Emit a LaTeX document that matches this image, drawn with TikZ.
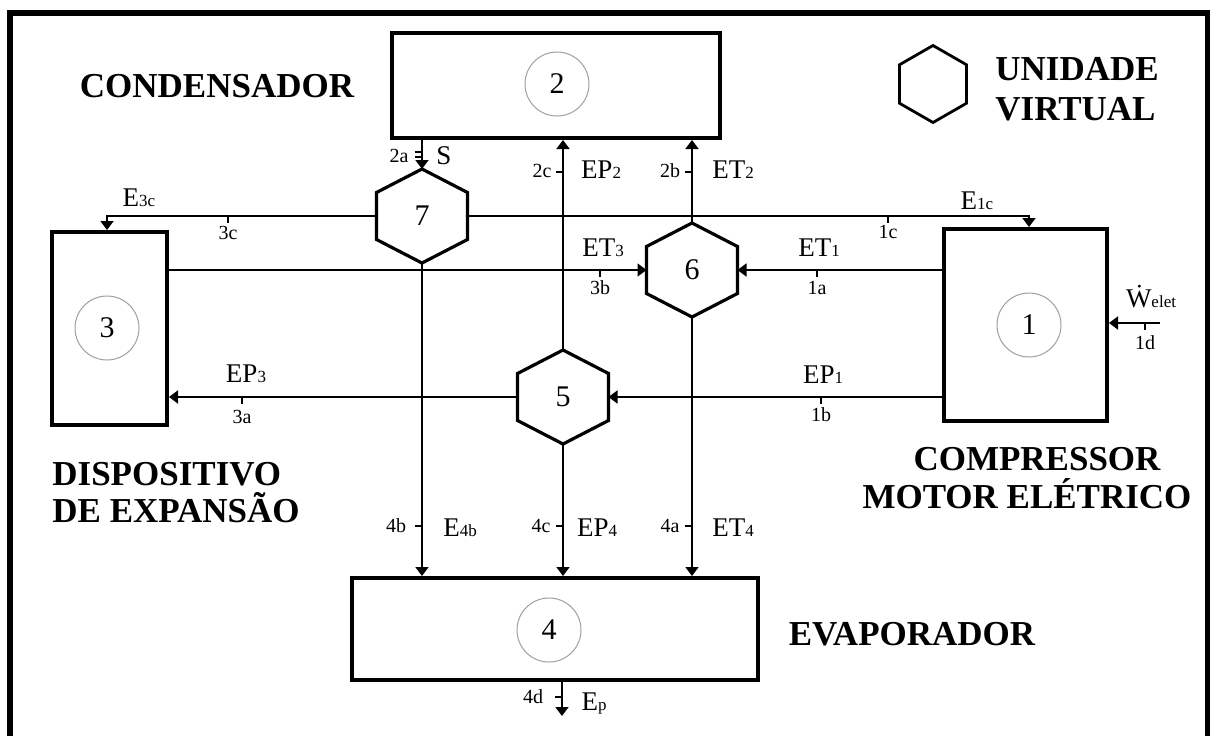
\documentclass[tikz,border=0pt]{standalone}
\usepackage{fontspec}
\setmainfont{Liberation Serif}
\usetikzlibrary{arrows.meta,calc}
\newcommand{\sbs}[1]{{\fontsize{8.5}{9}\selectfont #1}}
\newcommand{\hexdraw}[2][hexline]{\draw[#1] (#2.north) -- ($(#2.east)!0.5!(#2.north east)$) -- ($(#2.east)!0.5!(#2.south east)$) -- (#2.south) -- ($(#2.west)!0.5!(#2.south west)$) -- ($(#2.west)!0.5!(#2.north west)$) -- cycle;}
\begin{document}
\begin{tikzpicture}[x=0.5pt,y=-0.5pt,
  boxs/.style={draw,line width=2pt,inner sep=0},
  circ/.style={draw=gray!75,line width=0.5pt,circle,minimum size=32pt,inner sep=0,font=\fontsize{15}{17}\selectfont},
  hexn/.style={minimum width=45.5pt,minimum height=47pt,inner sep=0,outer sep=0,font=\fontsize{15}{17}\selectfont},
  hexline/.style={line width=1.6pt,line join=miter},
  arr/.style={line width=0.9pt,-{Triangle[length=4.5pt,width=6.5pt]}},
  ln/.style={line width=0.9pt},
  tick/.style={line width=0.6pt},
  lbl/.style={font=\fontsize{13.5}{15}\selectfont,inner sep=0},
  tl/.style={font=\fontsize{10}{11}\selectfont,inner sep=0},
  big/.style={font=\bfseries\fontsize{17.5}{20}\selectfont,inner sep=0}]
\useasboundingbox (0,0) rectangle (1210,735);
\draw[line width=3pt] (10,780) -- (10,13) -- (1208,13) -- (1208,780);

% boxes
\node[boxs,minimum width=164pt,minimum height=52.5pt] (b2) at (556,85.5) {};
\node[boxs,minimum width=81.5pt,minimum height=96pt] (b1) at (1025.5,325) {};
\node[boxs,minimum width=57.5pt,minimum height=96.5pt] (b3) at (109.5,328.5) {};
\node[boxs,minimum width=203pt,minimum height=51pt] (b4) at (555,629) {};
\node[circ] (c2) at (557,84) {2};
\node[circ] (c1) at (1029,325) {1};
\node[circ] (c3) at (107,328) {3};
\node[circ] (c4) at (549,630) {4};

% hexagons
\node[hexn] (h7) at (422,216) {7};
\node[hexn] (h6) at (692,270) {6};
\node[hexn] (h5) at (563,397) {5};
\node[minimum width=33.5pt,minimum height=38.5pt,inner sep=0,outer sep=0] (lh) at (933,84) {};
\hexdraw{h7}
\hexdraw{h6}
\hexdraw{h5}
\hexdraw[line width=1.4pt]{lh}

% free ends
\coordinate (ep) at (562,716);
\coordinate (w) at (1160,323);

% connectors
\draw[arr] (b2.south -| h7.north) -- (h7.north);
\draw[arr] (h5.north) -- (b2.south -| h5.north);
\draw[arr] (h6.north) -- (b2.south -| h6.north);
\draw[arr] (h7.east) -| (b1.north -| c1);
\draw[arr] (h7.west) -| (b3.north -| c3);
\draw[arr] (b3.east |- h6.west) -- (h6.west);
\draw[arr] (b1.west |- h6.east) -- (h6.east);
\draw[arr] (b1.west |- h5.east) -- (h5.east);
\draw[arr] (h5.west) -- (b3.east |- h5.west);
\draw[arr] (h7.south) -- (b4.north -| h7.south);
\draw[arr] (h5.south) -- (b4.north -| h5.south);
\draw[arr] (h6.south) -- (b4.north -| h6.south);
\draw[arr] (b4.south -| ep) -- (ep);
\draw[arr] (w) -- (b1.east |- w);

% ticks
\draw[tick] (415,152) -- (422,152) (415,157) -- (422,157);
\draw[tick] (556,172) -- (563,172);
\draw[tick] (685,172) -- (692,172);
\draw[tick] (228,216) -- (228,223);
\draw[tick] (888,216) -- (888,223);
\draw[tick] (600,270) -- (600,277);
\draw[tick] (817,270) -- (817,277);
\draw[tick] (242,397) -- (242,404);
\draw[tick] (821,397) -- (821,404);
\draw[tick] (1145,323) -- (1145,330);
\draw[tick] (415,526) -- (422,526);
\draw[tick] (556,526) -- (563,526);
\draw[tick] (685,526) -- (692,526);
\draw[tick] (555,697) -- (562,697);

% tick labels
\node[tl] (t2a) at (399,156) {2a};
\node[tl] (t2c) at (542,171) {2c};
\node[tl] (t2b) at (670,171) {2b};
\node[tl] (t3c) at (228,233) {3c};
\node[tl] (t1c) at (888,232) {1c};
\node[tl] (t3b) at (600,288) {3b};
\node[tl] (t1a) at (817,288) {1a};
\node[tl] (t3a) at (242,417) {3a};
\node[tl] (t1b) at (821,415) {1b};
\node[tl] (t1d) at (1145,343) {1d};
\node[tl] (t4b) at (396,526) {4b};
\node[tl] (t4c) at (541,526) {4c};
\node[tl] (t4a) at (670,526) {4a};
\node[tl] (t4d) at (533,697) {4d};

% flow labels
\node[lbl] (lS) at (444,156) {S};
\node[lbl] (lEP2) at (601,170) {EP\sbs{2}};
\node[lbl] (lET2) at (733,170) {ET\sbs{2}};
\node[lbl] (lE3c) at (139,198) {E\sbs{3c}};
\node[lbl] (lE1c) at (977,201) {E\sbs{1c}};
\node[lbl] (lET3) at (603,248) {ET\sbs{3}};
\node[lbl] (lET1) at (819,248) {ET\sbs{1}};
\node[lbl] (lEP3) at (246,374) {EP\sbs{3}};
\node[lbl] (lEP1) at (823,375) {EP\sbs{1}};
\node[lbl] (lW) at (1151,297) {\.{W}\sbs{elet}};
\node[lbl] (lE4b) at (460,528) {E\sbs{4b}};
\node[lbl] (lEP4) at (597,528) {EP\sbs{4}};
\node[lbl] (lET4) at (733,528) {ET\sbs{4}};
\node[lbl] (lEp) at (594,703) {E\sbs{p}};

% titles
\node[big,anchor=base] (tc) at (217,97) {CONDENSADOR};
\node[big,anchor=base west] (tu1) at (995,80) {UNIDADE};
\node[big,anchor=base west] (tu2) at (995,120) {VIRTUAL};
\node[big,anchor=base west] (td1) at (52,485) {DISPOSITIVO};
\node[big,anchor=base west] (td2) at (52,522) {DE EXPANSÃO};
\node[big,anchor=base] (tm1) at (1037,470) {COMPRESSOR};
\node[big,anchor=base] (tm2) at (1027,508) {MOTOR ELÉTRICO};
\node[big,anchor=base] (te) at (912,645) {EVAPORADOR};
\end{tikzpicture}
\end{document}
